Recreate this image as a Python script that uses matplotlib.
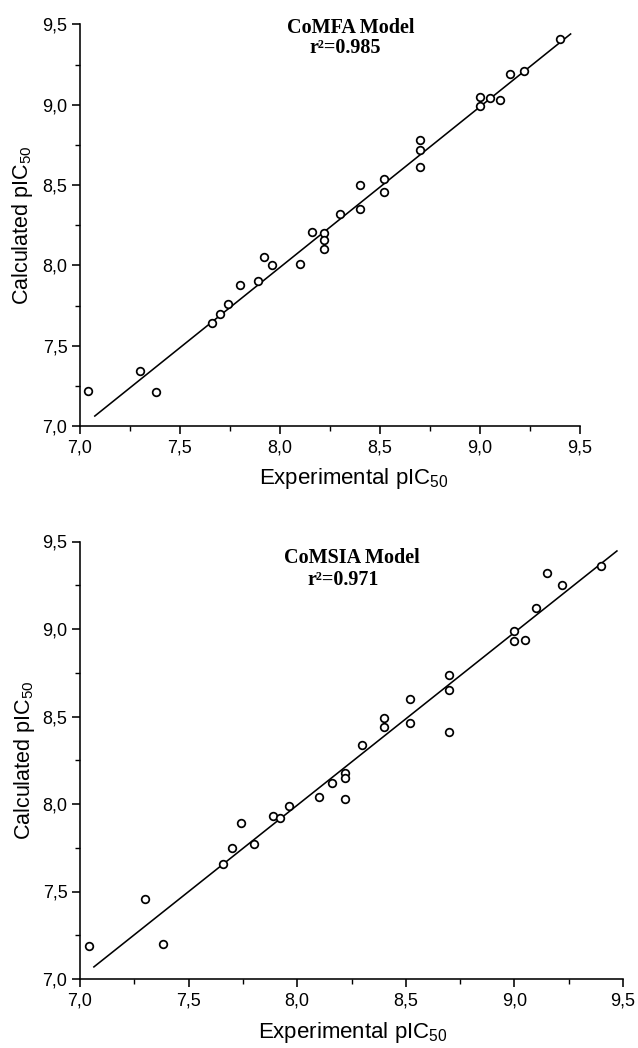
import numpy as np
import matplotlib
matplotlib.use("Agg")
import matplotlib.pyplot as plt
from matplotlib.ticker import FixedLocator, MultipleLocator

# ---------------- data ----------------
experimental = [7.04, 7.30, 7.38, 7.66, 7.70, 7.74, 7.80, 7.89, 7.92, 7.96,
                8.10, 8.16, 8.22, 8.22, 8.22, 8.30, 8.40, 8.40, 8.52, 8.52,
                8.70, 8.70, 8.70, 9.00, 9.00, 9.05, 9.10, 9.15, 9.22, 9.40]

comfa_calc = [7.22, 7.34, 7.21, 7.64, 7.70, 7.76, 7.88, 7.90, 8.05, 8.00,
              8.01, 8.21, 8.20, 8.16, 8.10, 8.32, 8.35, 8.50, 8.54, 8.46,
              8.78, 8.72, 8.61, 9.05, 8.99, 9.04, 9.03, 9.19, 9.21, 9.41]

comsia_calc = [7.19, 7.46, 7.20, 7.66, 7.75, 7.89, 7.77, 7.93, 7.92, 7.99,
               8.04, 8.12, 8.18, 8.15, 8.03, 8.34, 8.44, 8.49, 8.46, 8.60,
               8.74, 8.65, 8.41, 8.99, 8.93, 8.94, 9.12, 9.32, 9.25, 9.36]

# regression lines: (slope, intercept, x start, x end)
fit_slopes = [1.000, 0.987]
fit_intercepts = [-0.012, 0.097]
fit_ranges = [(7.074, 9.453), (7.064, 9.472)]

model_titles = ["CoMFA Model", "CoMSIA Model"]
r2_labels = ["r\u00b2=0.985", "r\u00b2=0.971"]
tick_values = [7.0, 7.5, 8.0, 8.5, 9.0, 9.5]
tick_labels = ["7,0", "7,5", "8,0", "8,5", "9,0", "9,5"]
x_label = "Experimental pIC$_{50}$"
y_label = "Calculated pIC$_{50}$"

# ---------------- style ----------------
plt.rcParams["font.family"] = ["Liberation Sans", "DejaVu Sans"]
plt.rcParams["mathtext.default"] = "regular"

W, H = 638, 1048
fig = plt.figure(figsize=(W / 100, H / 100), dpi=100)

# axes rectangles in pixels: (left, right, top, bottom)
rects_px = [(80, 580, 24.5, 426), (80, 623, 541.5, 979)]
title_pos = [((0.542, 0.980), (0.530, 0.929)), ((0.500, 0.951), (0.484, 0.900))]
xlabel_pos = [(0.548, -0.145), (0.502, -0.134)]
ylabel_pos = [(-0.104, 0.5), (-0.093, 0.5)]

series = [comfa_calc, comsia_calc]

for i in range(2):
    l, r, t, b = rects_px[i]
    ax = fig.add_axes([l / W, 1 - b / H, (r - l) / W, (b - t) / H])
    calc = series[i]

    ax.plot(experimental, calc, linestyle="none", marker="o", markersize=5.5,
            markerfacecolor="white", markeredgecolor="black",
            markeredgewidth=1.25, clip_on=False, zorder=3)

    xs = np.array(fit_ranges[i])
    ax.plot(xs, fit_slopes[i] * xs + fit_intercepts[i], color="black",
            linewidth=1.15, zorder=2)

    ax.set_xlim(7.0, 9.5)
    ax.set_ylim(7.0, 9.5)
    for axis in (ax.xaxis, ax.yaxis):
        axis.set_major_locator(FixedLocator(tick_values))
        axis.set_minor_locator(MultipleLocator(0.25))
    ax.set_xticklabels(tick_labels)
    ax.set_yticklabels(tick_labels)

    ax.spines["top"].set_visible(False)
    ax.spines["right"].set_visible(False)
    for s in ("left", "bottom"):
        ax.spines[s].set_linewidth(1.15)

    ax.tick_params(which="major", direction="out", length=5.5, width=1.15,
                   labelsize=13, color="black")
    ax.tick_params(which="minor", direction="out", length=3.5, width=1.0)
    ax.tick_params(axis="x", which="major", pad=4.5)
    ax.tick_params(axis="y", which="major", pad=3.5)

    ax.set_xlabel(x_label, fontsize=16, va="baseline")
    ax.xaxis.set_label_coords(*xlabel_pos[i])
    ax.set_ylabel(y_label, fontsize=15.5, va="baseline")
    ax.yaxis.set_label_coords(*ylabel_pos[i])

    (tx, ty), (rx, ry) = title_pos[i]
    ax.text(tx, ty, model_titles[i], transform=ax.transAxes, ha="center",
            va="baseline", fontsize=14.5, fontweight="bold",
            family=["Liberation Serif", "DejaVu Serif"])
    ax.text(rx, ry, r2_labels[i], transform=ax.transAxes, ha="center",
            va="baseline", fontsize=14.5, fontweight="bold",
            family=["Liberation Serif", "DejaVu Serif"])

fig.savefig("out.png", dpi=100)
